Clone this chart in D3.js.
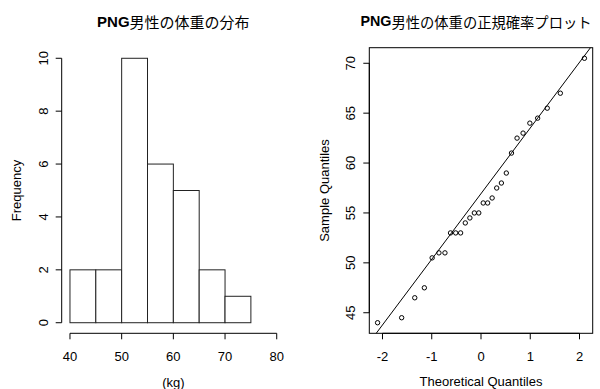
<!DOCTYPE html>
<html>
<head>
<meta charset="utf-8">
<script src="https://cdn.jsdelivr.net/npm/d3@7"></script>
<style>
  html, body { margin: 0; padding: 0; background: #fff; }
  svg { display: block; }
  text { font-family: 'Liberation Sans', Arial, 'Noto Sans CJK JP', sans-serif; fill: #000; }
</style>
</head>
<body>
<svg id="chart"></svg>
<script>
// histogram (breaks and counts)
const breaks = [40, 45, 50, 55, 60, 65, 70, 75];
const counts = [2, 2, 10, 6, 5, 2, 1];
const histXTicks = [40, 50, 60, 70, 80];
const histYTicks = [0, 2, 4, 6, 8, 10];

// sorted weights (sample quantiles) and normal theoretical quantiles
const weights = [44, 44.5, 46.5, 47.5, 50.5, 51, 51, 53, 53, 53, 54, 54.5, 55, 55,
  56, 56, 56.5, 57.5, 58, 59, 61, 62.5, 63, 64, 64.5, 65.5, 67, 70.5];
const theoretical = [-2.100, -1.611, -1.345, -1.150, -0.992, -0.854, -0.732, -0.619, -0.514, -0.414,
  -0.319, -0.226, -0.135, -0.045, 0.045, 0.135, 0.226, 0.319, 0.414, 0.514,
  0.619, 0.732, 0.854, 0.992, 1.150, 1.345, 1.611, 2.100];
const qqXTicks = [-2, -1, 0, 1, 2];
const qqYTicks = [45, 50, 55, 60, 65, 70];

const config = {
  width: 600,
  height: 389,
  top: 47.7, // plot region top
  bottom: 333.3, // plot region bottom
  left1: 61.7, right1: 285, // histogram region
  left2: 369.3, right2: 592.7, // qq region
  tickSize: 6,
  fontSize: 13,
  titleSize: 15,
};

const c = config;
const svg = d3.select('#chart').attr('width', c.width).attr('height', c.height);

// R style: extend range by 4%
const ext = (lo, hi) => { const d = (hi - lo) * 0.04; return [lo - d, hi + d]; };

function title(x, cjk, size) {
  const t = svg.append('text')
    .attr('x', x).attr('y', 21)
    .attr('text-anchor', 'middle')
    .attr('dominant-baseline', 'central')
    .style('font-size', size + 'px');
  t.append('tspan').attr('font-weight', 'bold').text('PNG');
  t.append('tspan').style('font-family', "'Noto Sans CJK JP', sans-serif").text(cjk);
}

function xAxis(scale, ticks) {
  const g = svg.append('g').attr('stroke', '#000').attr('stroke-width', 1);
  const y = c.bottom;
  g.append('line')
    .attr('x1', scale(ticks[0])).attr('x2', scale(ticks[ticks.length - 1]))
    .attr('y1', y).attr('y2', y);
  g.selectAll('line.tick').data(ticks).join('line').attr('class', 'tick')
    .attr('x1', scale).attr('x2', scale)
    .attr('y1', y).attr('y2', y + c.tickSize);
  svg.append('g').selectAll('text').data(ticks).join('text')
    .attr('x', scale).attr('y', y + 23)
    .attr('text-anchor', 'middle').attr('dominant-baseline', 'central')
    .style('font-size', c.fontSize + 'px')
    .text((d) => d);
}

function yAxis(scale, ticks, x) {
  const g = svg.append('g').attr('stroke', '#000').attr('stroke-width', 1);
  g.append('line')
    .attr('x1', x).attr('x2', x)
    .attr('y1', scale(ticks[0])).attr('y2', scale(ticks[ticks.length - 1]));
  g.selectAll('line.tick').data(ticks).join('line').attr('class', 'tick')
    .attr('x1', x - c.tickSize).attr('x2', x)
    .attr('y1', scale).attr('y2', scale);
  svg.append('g').selectAll('text').data(ticks).join('text')
    .attr('transform', (d) => `translate(${x - 18.5},${scale(d)}) rotate(-90)`)
    .attr('text-anchor', 'middle').attr('dominant-baseline', 'central')
    .style('font-size', c.fontSize + 'px')
    .text((d) => d);
}

function axisLabel(x, y, text, rotate) {
  svg.append('text')
    .attr('transform', `translate(${x},${y})` + (rotate ? ' rotate(-90)' : ''))
    .attr('text-anchor', 'middle').attr('dominant-baseline', 'central')
    .style('font-size', c.fontSize + 'px')
    .text(text);
}

/**
 * left: histogram
 */
const hx = d3.scaleLinear(ext(40, 80), [c.left1, c.right1]);
const hy = d3.scaleLinear(ext(0, 10), [c.bottom, c.top]);

svg.append('g')
  .selectAll('rect')
  .data(counts)
  .join('rect')
  .attr('x', (d, i) => hx(breaks[i]))
  .attr('y', (d) => hy(d))
  .attr('width', (d, i) => hx(breaks[i + 1]) - hx(breaks[i]))
  .attr('height', (d) => hy(0) - hy(d))
  .attr('fill', '#fff')
  .attr('stroke', '#222')
  .attr('stroke-width', 1);

xAxis(hx, histXTicks);
yAxis(hy, histYTicks, c.left1);
title((c.left1 + c.right1) / 2, '男性の体重の分布', c.titleSize);
axisLabel((c.left1 + c.right1) / 2, 382, '(kg)');
axisLabel(c.left1 - 45, (c.top + c.bottom) / 2, 'Frequency', true);

/**
 * right: normal Q-Q plot
 */
const qx = d3.scaleLinear(ext(d3.min(theoretical), d3.max(theoretical)), [c.left2, c.right2]);
const qy = d3.scaleLinear(ext(d3.min(weights), d3.max(weights)), [c.bottom, c.top]);

svg.append('defs').append('clipPath').attr('id', 'qq_clip')
  .append('rect')
  .attr('x', c.left2).attr('y', c.top)
  .attr('width', c.right2 - c.left2).attr('height', c.bottom - c.top);

// qqline through the first and third quartiles
const q1 = d3.quantile(weights, 0.25);
const q3 = d3.quantile(weights, 0.75);
const z = 0.6744898;
const slope = (q3 - q1) / (2 * z);
const intercept = q1 + slope * z;
const [t0, t1] = qx.domain();
svg.append('line')
  .attr('clip-path', 'url(#qq_clip)')
  .attr('x1', qx(t0)).attr('y1', qy(intercept + slope * t0))
  .attr('x2', qx(t1)).attr('y2', qy(intercept + slope * t1))
  .attr('stroke', '#000').attr('stroke-width', 1);

svg.append('g')
  .selectAll('circle')
  .data(weights)
  .join('circle')
  .attr('cx', (d, i) => qx(theoretical[i]))
  .attr('cy', (d) => qy(d))
  .attr('r', 2.2)
  .attr('fill', 'none')
  .attr('stroke', '#000')
  .attr('stroke-width', 1);

svg.append('rect')
  .attr('x', c.left2).attr('y', c.top)
  .attr('width', c.right2 - c.left2).attr('height', c.bottom - c.top)
  .attr('fill', 'none').attr('stroke', '#000').attr('stroke-width', 1);

xAxis(qx, qqXTicks);
yAxis(qy, qqYTicks, c.left2);
// long title: slightly smaller and shifted left so it stays inside the page
title(476, '男性の体重の正規確率プロット', 14.3);
axisLabel((c.left2 + c.right2) / 2, 381, 'Theoretical Quantiles');
axisLabel(c.left2 - 45, (c.top + c.bottom) / 2, 'Sample Quantiles', true);
</script>
</body>
</html>
